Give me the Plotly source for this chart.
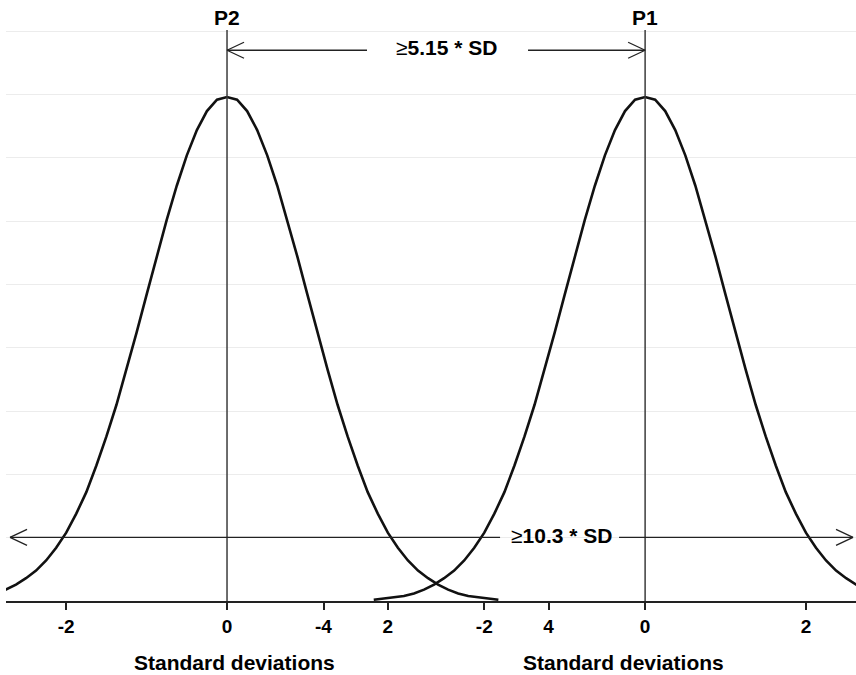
import plotly.graph_objects as go

# ---- data ----
# x positions in standard deviations relative to each process mean
x_sd = [-3.375, -3.25, -3.125, -3.0, -2.875, -2.75, -2.625, -2.5, -2.375, -2.25,
        -2.125, -2.0, -1.875, -1.75, -1.625, -1.5, -1.375, -1.25, -1.125, -1.0,
        -0.875, -0.75, -0.625, -0.5, -0.375, -0.25, -0.125, 0.0,
        0.125, 0.25, 0.375, 0.5, 0.625, 0.75, 0.875, 1.0, 1.125, 1.25,
        1.375, 1.5, 1.625, 1.75, 1.875, 2.0, 2.125, 2.25, 2.375, 2.5,
        2.625, 2.75, 2.875, 3.0, 3.125, 3.25, 3.375]
# curve height (density) read at each x position
density = [0.001, 0.002, 0.003, 0.004, 0.006, 0.009, 0.013, 0.018, 0.024, 0.032,
           0.042, 0.054, 0.069, 0.086, 0.107, 0.130, 0.155, 0.183, 0.212, 0.242,
           0.272, 0.301, 0.328, 0.352, 0.372, 0.387, 0.396, 0.398,
           0.396, 0.387, 0.372, 0.352, 0.328, 0.301, 0.272, 0.242, 0.212, 0.183,
           0.155, 0.130, 0.107, 0.086, 0.069, 0.054, 0.042, 0.032, 0.024, 0.018,
           0.013, 0.009, 0.006, 0.004, 0.003, 0.002, 0.001]

process_names = ["P2", "P1"]
process_centers = [0.0, 5.2]          # SD positions of P2 and P1

p2_tick_offsets = [-2, 0, 2, 4]
p1_tick_offsets = [-4, -2, 0, 2]

sep_label = "≥<b>5.15 * SD</b>"
spread_label = "≥<b>10.3 * SD</b>"
axis_title = "Standard deviations"

# ---- layout constants ----
FONT = "Liberation Sans, Arial, sans-serif"
X_RANGE = [-2.749, 7.823]
Y_RANGE = [0, 0.451]
PX_X = 80.4      # px per SD
PX_Y = 1266.0    # px per density unit
CURVE_COLOR = "#111111"
LINE_COLOR = "#222222"

fig = go.Figure()
for c in process_centers:
    fig.add_trace(go.Scatter(
        x=[v + c for v in x_sd], y=density, mode="lines",
        line=dict(color=CURVE_COLOR, width=2.6), hoverinfo="skip"))

shapes = []
# vertical mean lines
for c in process_centers:
    shapes.append(dict(type="line", xref="x", yref="paper", x0=c, x1=c, y0=0, y1=1,
                       line=dict(color="#3c3c3c", width=1.5)))


def seg(x0, x1, y, w=1.3):
    shapes.append(dict(type="line", xref="x", yref="y", x0=x0, x1=x1, y0=y, y1=y,
                       line=dict(color=LINE_COLOR, width=w)))


def head(xtip, y, direction, w=1.3):
    dx = 17 / PX_X * direction
    dy = 8 / PX_Y
    for s in (1, -1):
        shapes.append(dict(type="line", xref="x", yref="y", x0=xtip, x1=xtip - dx,
                           y0=y, y1=y + s * dy, line=dict(color=LINE_COLOR, width=w)))


p2, p1 = process_centers
# top separation arrow
y_top = 0.435
seg(p2, p2 + 1.741, y_top)
seg(p2 + 3.744, p1, y_top)
head(p2, y_top, -1)
head(p1, y_top, 1)
# bottom spread arrow
y_bot = 0.0502
x_left, x_right = -2.699, 7.786
seg(x_left, 3.396, y_bot)
seg(4.876, x_right, y_bot)
head(x_left, y_bot, -1)
head(x_right, y_bot, 1)

annotations = []
for name, c in zip(process_names, process_centers):
    annotations.append(dict(x=c, y=1.022, xref="x", yref="paper", text=name,
                            showarrow=False, xanchor="center", yanchor="middle",
                            font=dict(family=FONT, size=21, color="black", weight="bold")))
annotations.append(dict(x=2.724, y=0.4375, xref="x", yref="y", text=sep_label,
                        showarrow=False, xanchor="center", yanchor="middle",
                        font=dict(family=FONT, size=21, color="black")))
annotations.append(dict(x=4.154, y=0.0515, xref="x", yref="y", text=spread_label,
                        showarrow=False, xanchor="center", yanchor="middle",
                        font=dict(family=FONT, size=21, color="black")))
for xc in (0.087, 4.925):
    annotations.append(dict(x=xc, y=-0.108, xref="x", yref="paper", text=axis_title,
                            showarrow=False, xanchor="center", yanchor="middle",
                            font=dict(family=FONT, size=21, color="black", weight="bold")))

tickvals = [p2 + t for t in p2_tick_offsets] + [p1 + t for t in p1_tick_offsets]
ticktext = [str(t) for t in p2_tick_offsets] + [str(t) for t in p1_tick_offsets]

fig.update_layout(
    width=856, height=675,
    margin=dict(l=6, r=0, t=30, b=74),
    paper_bgcolor="white", plot_bgcolor="white",
    showlegend=False,
    shapes=shapes, annotations=annotations,
    xaxis=dict(range=X_RANGE, tickvals=tickvals, ticktext=ticktext,
               ticks="outside", ticklen=7, tickwidth=1.5, tickcolor=LINE_COLOR,
               showline=True, linecolor=LINE_COLOR, linewidth=1.6,
               showgrid=False, zeroline=False,
               tickfont=dict(family=FONT, size=19, color="black", weight="bold")),
    yaxis=dict(range=Y_RANGE, dtick=0.05, tick0=0, showgrid=True,
               gridcolor="#ececec", gridwidth=1, showticklabels=False,
               zeroline=False, showline=False, ticks=""),
)

fig.write_html("out.html")
